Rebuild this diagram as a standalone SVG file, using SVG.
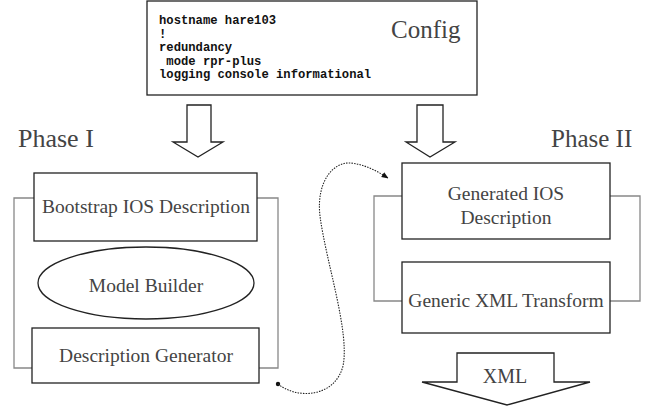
<svg xmlns="http://www.w3.org/2000/svg" width="645" height="406" viewBox="0 0 645 406">
<defs>
<style>
.box{fill:#fff;stroke:#222;stroke-width:1.3}
.brk{fill:none;stroke:#888;stroke-width:1.3}
.arr{fill:#fff;stroke:#222;stroke-width:1.3;stroke-linejoin:miter}
.lbl{font-family:"Liberation Serif","Times New Roman",serif;font-size:19.5px;fill:#444;text-anchor:middle}
.big{font-family:"Liberation Serif","Times New Roman",serif;font-size:26px;fill:#444}
.code{font-family:"Liberation Mono","Courier New",monospace;font-size:12.2px;font-weight:bold;fill:#111;white-space:pre}
</style>
<marker id="ah" viewBox="0 0 10 10" refX="9" refY="5" markerWidth="7" markerHeight="7" orient="auto" markerUnits="userSpaceOnUse">
<path d="M0,1 L10,5 L0,9 z" fill="#111"/>
</marker>
</defs>
<rect width="645" height="406" fill="#fff"/>

<g id="config">
<rect x="147" y="1" width="330" height="94" class="box"/>
<text class="code" x="159" y="24" xml:space="preserve">hostname hare103</text>
<text class="code" x="159" y="37.5" xml:space="preserve">!</text>
<text class="code" x="159" y="51" xml:space="preserve">redundancy</text>
<text class="code" x="159" y="64.5" xml:space="preserve"> mode rpr-plus</text>
<text class="code" x="159" y="78" xml:space="preserve">logging console informational</text>
<text class="big" x="391" y="38" style="font-size:25px">Config</text>
</g>

<g id="phase1-label"><text class="big" x="18" y="147">Phase I</text></g>
<g id="phase2-label"><text class="big" x="551" y="147" style="font-size:25px">Phase II</text></g>

<g id="arrow-in-1"><polygon class="arr" points="187,105 211,105 211,142 223,142 198,157 173,142 187,142"/></g>
<g id="arrow-in-2"><polygon class="arr" points="417,105 443,105 443,142 455,142 430,157 406,142 417,142"/></g>

<g id="phase1">
<polyline class="brk" points="34,198 14,198 14,368 32,368"/>
<polyline class="brk" points="257,198 278,198 278,368 259,368"/>
<g id="bootstrap">
<rect x="34" y="173" width="223" height="68" class="box"/>
<text class="lbl" x="146" y="213">Bootstrap IOS Description</text>
</g>
<g id="model-builder">
<ellipse cx="146" cy="283" rx="108" ry="36" class="box"/>
<text class="lbl" x="146" y="292">Model Builder</text>
</g>
<g id="desc-gen">
<rect x="32" y="328" width="227" height="55" class="box"/>
<text class="lbl" x="146" y="362">Description Generator</text>
</g>
</g>

<g id="phase2">
<polyline class="brk" points="402,196 374,196 374,301 402,301"/>
<polyline class="brk" points="610,196 640,196 640,301 610,301"/>
<g id="generated">
<rect x="402" y="163" width="208" height="76" class="box"/>
<text class="lbl" x="506" y="200">Generated IOS</text>
<text class="lbl" x="506" y="224">Description</text>
</g>
<g id="xml-transform">
<rect x="402" y="262" width="208" height="71" class="box"/>
<text class="lbl" x="506" y="307">Generic XML Transform</text>
</g>
</g>

<g id="xml-out">
<polygon class="arr" points="457,353 554,353 554,382 590,382 507,405 422,382 457,382"/>
<text class="lbl" x="505" y="383" style="font-size:20px">XML</text>
</g>

<g id="connectors">
<circle cx="278" cy="384" r="2.2" fill="#111"/>
<path d="M278,384 C298,400 335,397 343,366 C350,332 326,262 320,216 C316,182 333,162 350,163 C364,164 377,171 388,178" fill="none" stroke="#222" stroke-width="1.1" stroke-dasharray="1.5,1.2" marker-end="url(#ah)"/>
</g>
</svg>
